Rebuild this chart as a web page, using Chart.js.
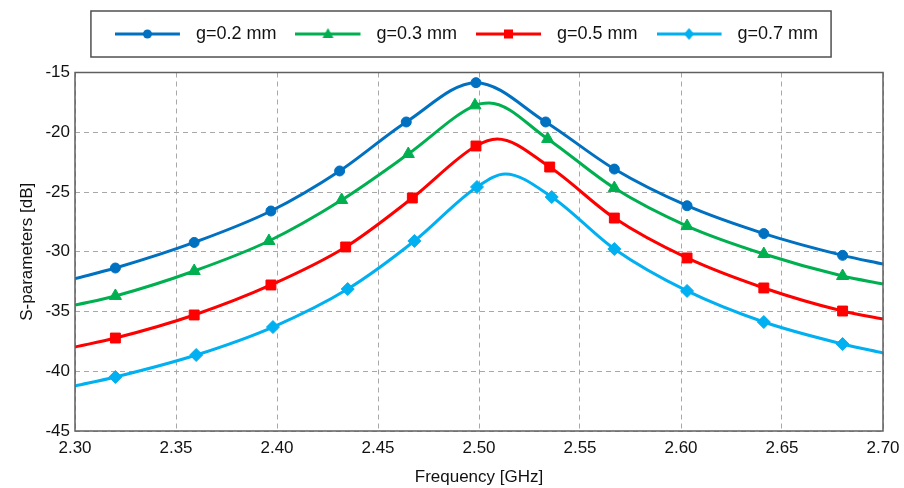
<!DOCTYPE html>
<html>
<head>
<meta charset="utf-8">
<script src="https://cdn.jsdelivr.net/npm/chart.js@4.4.0/dist/chart.umd.min.js"></script>
<style>
    html, body { margin: 0; padding: 0; background: #fff; }
    #wrap { width: 904px; height: 488px; }
</style>
</head>
<body>
<div id="wrap"><canvas id="chart-sparam"></canvas></div>
<script>
// S-parameters vs frequency for four gap widths

const seriesNames = ['g=0.2 mm', 'g=0.3 mm', 'g=0.5 mm', 'g=0.7 mm'];

// frequency [GHz], S [dB]; mark = 1 where a marker is drawn
const freqG02 = [2.300, 2.320, 2.359, 2.397, 2.431, 2.464, 2.4985, 2.533, 2.567, 2.603, 2.641, 2.680, 2.700];
const sG02    = [-32.25, -31.36, -29.22, -26.59, -23.24, -19.14, -15.85, -19.14, -23.08, -26.15, -28.48, -30.30, -31.03];
const markG02 = [0, 1, 1, 1, 1, 1, 1, 1, 1, 1, 1, 1, 0];

const freqG03 = [2.300, 2.320, 2.359, 2.396, 2.432, 2.465, 2.498, 2.505, 2.534, 2.567, 2.603, 2.641, 2.680, 2.700];
const sG03    = [-34.46, -33.70, -31.61, -29.10, -25.67, -21.82, -17.75, -17.55, -20.56, -24.67, -27.85, -30.19, -32.03, -32.70];
const markG03 = [0, 1, 1, 1, 1, 1, 1, 0, 1, 1, 1, 1, 1, 0];

const freqG05 = [2.300, 2.320, 2.359, 2.397, 2.434, 2.467, 2.4985, 2.509, 2.535, 2.567, 2.603, 2.641, 2.680, 2.700];
const sG05    = [-37.97, -37.22, -35.29, -32.78, -29.60, -25.50, -21.15, -20.56, -22.91, -27.18, -30.52, -33.03, -34.96, -35.63];
const markG05 = [0, 1, 1, 1, 1, 1, 1, 0, 1, 1, 1, 1, 1, 0];

const freqG07 = [2.300, 2.320, 2.360, 2.398, 2.435, 2.468, 2.499, 2.513, 2.536, 2.567, 2.603, 2.641, 2.680, 2.700];
const sG07    = [-41.23, -40.48, -38.64, -36.30, -33.12, -29.10, -24.58, -23.49, -25.42, -29.77, -33.28, -35.88, -37.72, -38.47];
const markG07 = [0, 1, 1, 1, 1, 1, 1, 0, 1, 1, 1, 1, 1, 0];

const xTicks = [2.30, 2.35, 2.40, 2.45, 2.50, 2.55, 2.60, 2.65, 2.70];
const yTicks = [-45, -40, -35, -30, -25, -20, -15];

const seriesColors = ['#0070C0', '#00B050', '#FF0000', '#00B0F0'];
const markerStyles = ['circle', 'triangle', 'rect', 'rectRot'];
const markerRadius = [5, 7, 7, 6.5];

const allFreq = [freqG02, freqG03, freqG05, freqG07];
const allS = [sG02, sG03, sG05, sG07];
const allMark = [markG02, markG03, markG05, markG07];

// small line + marker picture for each legend entry
function legendIcon(color, style) {
    const c = document.createElement('canvas');
    c.width = 72;
    c.height = 16;
    const ctx = c.getContext('2d');
    const cx = 32.5, cy = 8;
    ctx.strokeStyle = color;
    ctx.fillStyle = color;
    ctx.lineWidth = 3;
    ctx.beginPath();
    ctx.moveTo(0, cy);
    ctx.lineTo(65, cy);
    ctx.stroke();
    ctx.beginPath();
    if (style === 'circle') {
        ctx.arc(cx, cy, 4.5, 0, Math.PI * 2);
    } else if (style === 'triangle') {
        ctx.moveTo(cx, cy - 6);
        ctx.lineTo(cx + 5.5, cy + 4);
        ctx.lineTo(cx - 5.5, cy + 4);
        ctx.closePath();
    } else if (style === 'rect') {
        ctx.rect(cx - 4.5, cy - 4.5, 9, 9);
    } else {
        ctx.moveTo(cx, cy - 6);
        ctx.lineTo(cx + 5, cy);
        ctx.lineTo(cx, cy + 6);
        ctx.lineTo(cx - 5, cy);
        ctx.closePath();
    }
    ctx.fill();
    return c;
}
const legendIcons = seriesColors.map((col, i) => legendIcon(col, markerStyles[i]));

const datasets = seriesNames.map((name, i) => ({
    label: name,
    data: allFreq[i].map((f, k) => ({ x: f, y: allS[i][k] })),
    borderColor: seriesColors[i],
    backgroundColor: seriesColors[i],
    borderWidth: 3,
    cubicInterpolationMode: 'monotone',
    pointStyle: markerStyles[i],
    pointRadius: allMark[i].map(m => (m ? markerRadius[i] : 0)),
    pointHoverRadius: 0,
    pointBackgroundColor: seriesColors[i],
    pointBorderColor: seriesColors[i],
    pointBorderWidth: 1,
    fill: false,
}));

// place the legend and draw the frames round legend and plot
const framePlugin = {
    id: 'frames',
    afterLayout(chart) {
        const lg = chart.legend;
        if (!lg) return;
        lg.top = 6;
        lg.bottom = 53;
        lg.left = 14.5;
        lg.right = 918.5;
    },
    afterDraw(chart) {
        const ctx = chart.ctx;
        const a = chart.chartArea;
        ctx.save();
        ctx.setLineDash([]);
        ctx.strokeStyle = '#5f5f5f';
        ctx.lineWidth = 1.5;
        ctx.strokeRect(a.left, a.top, a.right - a.left, a.bottom - a.top);
        const hb = chart.legend && chart.legend.legendHitBoxes;
        if (hb && hb.length) {
            const last = hb[hb.length - 1];
            const l = hb[0].left - 24;
            const r = last.left + last.width + 13;
            ctx.strokeStyle = '#505050';
            ctx.lineWidth = 1.5;
            ctx.strokeRect(l, 11, r - l, 46);
        }
        ctx.restore();
    },
};

const tickFont = { family: 'Liberation Sans, Arial, sans-serif', size: 17 };

new Chart(document.getElementById('chart-sparam'), {
    type: 'line',
    data: { datasets },
    options: {
        responsive: true,
        maintainAspectRatio: false,
        animation: false,
        events: [],
        layout: { padding: { top: 25.5, right: 21, left: 0, bottom: 0 } },
        plugins: {
            tooltip: { enabled: false },
            legend: {
                position: 'top',
                labels: {
                    usePointStyle: true,
                    pointStyleWidth: 72,
                    padding: 19,
                    color: '#111',
                    font: { family: 'Liberation Sans, Arial, sans-serif', size: 18 },
                    generateLabels: (chart) => chart.data.datasets.map((ds, i) => ({
                        text: ds.label,
                        pointStyle: legendIcons[i],
                        fillStyle: seriesColors[i],
                        strokeStyle: seriesColors[i],
                        lineWidth: 0,
                        hidden: false,
                        datasetIndex: i,
                        fontColor: '#111',
                    })),
                },
            },
        },
        scales: {
            x: {
                type: 'linear',
                min: 2.30,
                max: 2.70,
                afterBuildTicks: (scale) => { scale.ticks = xTicks.map(v => ({ value: v })); },
                afterFit: (scale) => {
                    scale.height = 57;
                    scale.paddingLeft = 0;
                    scale.paddingRight = 0;
                },
                ticks: {
                    color: '#111',
                    font: tickFont,
                    padding: 7,
                    maxRotation: 0,
                    callback: (v) => v.toFixed(2),
                },
                grid: { color: '#a8a8a8', lineWidth: 1, drawTicks: false },
                border: { display: false, dash: [5, 4] },
                title: {
                    display: true,
                    text: 'Frequency [GHz]',
                    color: '#111',
                    font: tickFont,
                    padding: { top: 0, bottom: 0 },
                },
            },
            y: {
                min: -45,
                max: -15,
                afterBuildTicks: (scale) => { scale.ticks = yTicks.map(v => ({ value: v })); },
                afterFit: (scale) => { scale.width = 75; },
                ticks: {
                    color: '#111',
                    font: tickFont,
                    padding: 5,
                },
                grid: { color: '#a8a8a8', lineWidth: 1, drawTicks: false },
                border: { display: false, dash: [5, 4] },
                title: {
                    display: true,
                    text: 'S-parameters [dB]',
                    color: '#111',
                    font: tickFont,
                    padding: { top: 17, bottom: 0 },
                },
            },
        },
    },
    plugins: [framePlugin],
});
</script>
</body>
</html>
